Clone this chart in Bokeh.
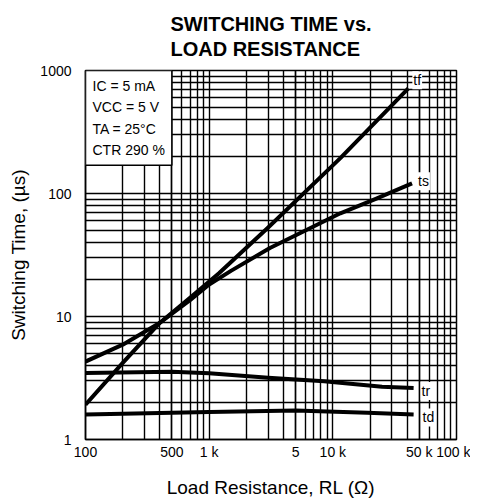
from bokeh.plotting import figure
from bokeh.models import FixedTicker, Title, Label, ColumnDataSource
from bokeh.core.properties import value
from bokeh.embed import file_html
from bokeh.resources import INLINE

# ---- data ----
rl_tf = [100, 200, 400, 700, 1200, 3000, 11500, 40800]
t_f = [1.92, 4.2, 8.9, 14.2, 22.5, 53, 194, 716]

rl_ts = [100, 200, 400, 700, 1000, 1500, 3100, 6000, 11500, 22000, 43700]
t_s = [4.3, 5.9, 8.9, 13.6, 18.2, 23.5, 36, 50, 69, 90, 121]

rl_tr = [100, 500, 1000, 3000, 8500, 25000, 45000]
t_r = [3.48, 3.56, 3.45, 3.18, 2.97, 2.68, 2.62]

rl_td = [100, 1000, 5000, 19000, 45000]
t_d = [1.6, 1.67, 1.72, 1.65, 1.6]

curve_names = ["tf", "ts", "tr", "td"]

x_tick_values = [100, 500, 1000, 5000, 10000, 50000, 100000]
x_tick_labels = ["100", "500", "1 k", "5", "10 k", "50 k", "100 k"]
y_tick_values = [1, 10, 100, 1000]
y_tick_labels = ["1", "10", "100", "1000"]

title_lines = ["SWITCHING TIME vs.", "LOAD RESISTANCE"]
conditions = ["IC = 5 mA", "VCC = 5 V", "TA = 25°C", "CTR 290 %"]

FONT = "Liberation Sans"

def minor_positions(lo_exp, hi_exp):
    return [m * 10 ** e for e in range(lo_exp, hi_exp) for m in range(2, 10)]

p = figure(width=470, height=500, x_axis_type="log", y_axis_type="log",
           x_range=(100, 100000), y_range=(1, 1000),
           output_backend="svg", toolbar_location=None,
           min_border_left=85, min_border_right=14,
           min_border_top=70, min_border_bottom=60)

xt = FixedTicker(ticks=x_tick_values, minor_ticks=minor_positions(2, 5))
yt = FixedTicker(ticks=y_tick_values, minor_ticks=minor_positions(0, 3))
p.xaxis.ticker = xt
p.yaxis.ticker = yt
p.xgrid.ticker = xt
p.ygrid.ticker = yt
p.xaxis.major_label_overrides = dict(zip(x_tick_values, x_tick_labels))
p.yaxis.major_label_overrides = dict(zip(y_tick_values, y_tick_labels))

for g in (p.xgrid, p.ygrid):
    g.grid_line_color = "black"
    g.grid_line_width = 1.4
    g.minor_grid_line_color = "black"
    g.minor_grid_line_width = 1.4

for ax in (p.xaxis, p.yaxis):
    ax.major_tick_line_color = None
    ax.minor_tick_line_color = None
    ax.axis_line_color = "black"
    ax.axis_line_width = 1.5
    ax.major_label_text_font = FONT
    ax.major_label_text_font_size = "14px"
    ax.major_label_text_color = "black"
    ax.axis_label_text_font = FONT
    ax.axis_label_text_font_size = "19px"
    ax.axis_label_text_font_style = "normal"
    ax.axis_label_text_color = "black"

p.xaxis.major_label_standoff = -2
p.yaxis.major_label_standoff = 8
p.xaxis.axis_label = "Load Resistance, RL (Ω)"
p.yaxis.axis_label = "Switching Time, (µs)"
p.xaxis.axis_label_standoff = 14
p.yaxis.axis_label_standoff = 8

p.outline_line_color = "black"
p.outline_line_width = 1.5
p.background_fill_color = "white"
p.border_fill_color = "white"

series = [(rl_tf, t_f), (rl_ts, t_s), (rl_tr, t_r), (rl_td, t_d)]
for xs, ys in series:
    p.line(xs, ys, line_color="black", line_width=4, line_join="round")

# curve labels at the end of each curve
lab = ColumnDataSource(dict(
    x=[s[0][-1] for s in series],
    y=[s[1][-1] for s in series],
    text=curve_names,
    xo=[4, 5, 7, 8],
    yo=[-8, -2, 3, 3],
))
p.text(x="x", y="y", text="text", x_offset="xo", y_offset="yo", source=lab,
       text_font=value(FONT), text_font_size="14px", text_color="black",
       text_align="left", text_baseline="middle",
       background_fill_color="white", padding=1)

# conditions box
p.add_layout(Label(x=p.x_range.start, y=p.y_range.end, anchor="top_left",
                   text="\n".join(conditions), text_font=FONT,
                   text_font_size="14px", text_line_height=1.35,
                   text_color="black", padding=7,
                   background_fill_color="white",
                   border_line_color="black", border_line_width=1.5))

p.add_layout(Title(text="\n".join(title_lines), align="center", text_font=FONT,
                   text_font_size="20px", text_font_style="bold",
                   text_line_height=1.15, text_color="black",
                   standoff=21), "above")

open("out.html", "w").write(file_html(p, INLINE))
